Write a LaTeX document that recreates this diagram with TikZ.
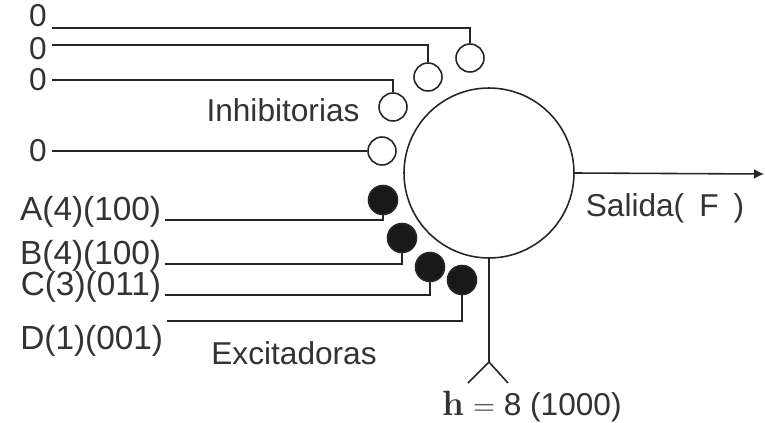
\documentclass[tikz,border=0pt]{standalone}
\usepackage{fontspec}
\setsansfont{Liberation Sans}
\usetikzlibrary{arrows.meta, positioning}

\begin{document}
\begin{tikzpicture}[
        x=0.02cm, y=-0.02cm,
        font=\sffamily\fontsize{18}{20}\selectfont,
        soma/.style={circle, draw=black!85, line width=0.9pt, minimum size=3.4cm, inner sep=0pt},
        inhib/.style={circle, draw=black!85, line width=0.9pt, fill=white, minimum size=0.56cm, inner sep=0pt},
        excit/.style={circle, draw=black!85, line width=0.9pt, fill=black!90, minimum size=0.58cm, inner sep=0pt},
        lbl/.style={inner sep=2pt, text=black!80},
        zero/.style={lbl, inner ysep=0pt, inner xsep=3pt},
        input/.style={lbl, font=\sffamily\fontsize{19}{21}\selectfont},
        line/.style={draw=black!85, line width=0.9pt}
        ]
        \useasboundingbox (0,0) rectangle (765,423);

        % Nodes
        \node [soma] (soma) at (489,173) {};
        \node [inhib] (i1) at (470,58) {};
        \node [inhib] (i2) at (428,77) {};
        \node [inhib] (i3) at (393,107) {};
        \node [inhib] (i4) at (382,151) {};
        \node [excit] (e1) at (383,200) {};
        \node [excit] (e2) at (402,238) {};
        \node [excit] (e3) at (430,267) {};
        \node [excit] (e4) at (462,280) {};

        \node [zero] (z1) at (38,16) {0};
        \node [zero] (z2) at (38,49) {0};
        \node [zero] (z3) at (38,80) {0};
        \node [zero] (z4) at (38,151) {0};
        \node [input, anchor=base east] (inA) at (165,220) {A(4)(100)};
        \node [input, anchor=base east] (inB) at (165,264) {B(4)(100)};
        \node [input, anchor=base east] (inC) at (165,295) {C(3)(011)};
        \node [input, anchor=north east] (inD) at (167,321) {D(1)(001)};

        \node [lbl] (inhlbl) at (283,110) {Inhibitorias};
        \node [lbl] (exclbl) at (294,353) {Excitadoras};
        \node [lbl] (outlbl) at (665,208) {Salida(\hspace{0.3cm}F\hspace{0.3cm})};
        \node [lbl] (thr) at (532,407) {\textrm{\textbf{\fontsize{20}{22}\selectfont h}} $=$ 8 (1000)};

        \coordinate (out) at (764,174);
        \coordinate (hj) at (489,362);
        \coordinate (hl) at (468,383);
        \coordinate (hr) at (508,383);

        % Edges
        \path [line] ([yshift=-0.24cm]z1.east) -| (i1.north);
        \path [line] ([yshift=0.08cm]z2.east) -| (i2.north);
        \path [line] (z3.east) -| (i3.north);
        \path [line] (z4.east) -- (i4.west);
        \path [line] (inA.base east) -| (e1.south);
        \path [line] (inB.base east) -| (e2.south);
        \path [line] (inC.base east) -| (e3.south);
        \path [line] (inD.north east) -| (e4.south);
        \path [line, -{Latex[length=0.2cm, width=0.2cm]}] (soma.east) -- (out);
        \path [line] (soma.south) -- (hj);
        \path [line] (hl) -- (hj) -- (hr);
    \end{tikzpicture}
\end{document}
